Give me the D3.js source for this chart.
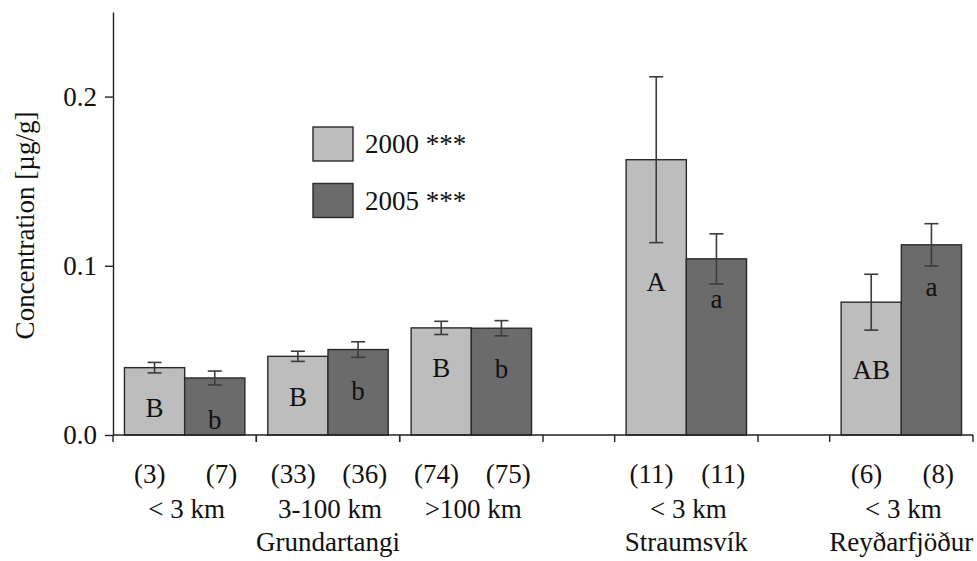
<!DOCTYPE html>
<html>
<head>
<meta charset="utf-8">
<script src="https://cdn.jsdelivr.net/npm/d3@7"></script>
<style>
  body { margin: 0; background: #fff; }
  text { font-family: "Liberation Serif", "Times New Roman", serif; fill: #111; }
</style>
</head>
<body>
<svg width="977" height="561"></svg>
<script>
// distance classes, one per group of two bars
var distances = ["< 3 km", "3-100 km", ">100 km", "< 3 km", "< 3 km"];
var sites = ["Grundartangi", "Straumsvík", "Reyðarfjöður"];
var siteOfGroup = [0, 0, 0, 1, 2];
var years = ["2000 ***", "2005 ***"];

// mean concentration [µg/g] and standard error
var mean2000 = [0.0398, 0.0465, 0.0633, 0.1627, 0.0785];
var mean2005 = [0.0337, 0.0505, 0.0631, 0.1041, 0.1124];
var se2000 = [0.0031, 0.0030, 0.0039, 0.0490, 0.0165];
var se2005 = [0.0041, 0.0046, 0.0045, 0.0148, 0.0125];

// sample sizes
var n2000 = [3, 33, 74, 11, 6];
var n2005 = [7, 36, 75, 11, 8];

// significance letters and the concentration level they are written at
var letters2000 = ["B", "B", "B", "A", "AB"];
var letters2005 = ["b", "b", "b", "a", "a"];
var letterAt2000 = [0.0160, 0.0227, 0.0396, 0.0907, 0.0385];
var letterAt2005 = [0.0089, 0.0262, 0.0390, 0.0805, 0.0878];

var yTicks = [0, 0.1, 0.2];
var colors = ["#bdbdbd", "#6b6b6b"];
var fontSize = "27px";

var svg = d3.select("svg"),
    margin = {top: 12, right: 4, bottom: 126, left: 113},
    width = +svg.attr("width") - margin.left - margin.right,
    height = +svg.attr("height") - margin.top - margin.bottom,
    chart = svg.append("g").attr("transform", "translate(" + margin.left + "," + margin.top + ")");

// one slot per bar, plus a single empty slot where the site changes
var slots = [];
distances.forEach(function(d, i) {
  if (i > 0 && siteOfGroup[i] !== siteOfGroup[i - 1]) slots.push("gap" + i);
  slots.push(i + "-0");
  slots.push(i + "-1");
});

var x = d3.scaleBand().domain(slots).range([0, width]).padding(0);
var bw = x.bandwidth();
var pad = bw * 0.16;

var y = d3.scaleLinear().domain([0, 0.25]).range([height, 0]);

var bars = [];
distances.forEach(function(d, i) {
  bars.push({g: i, yr: 0, v: mean2000[i], se: se2000[i], n: n2000[i], letter: letters2000[i], at: letterAt2000[i]});
  bars.push({g: i, yr: 1, v: mean2005[i], se: se2005[i], n: n2005[i], letter: letters2005[i], at: letterAt2005[i]});
});

function barX(d) { return x(d.g + "-" + d.yr) + (d.yr === 0 ? pad : 0); }
function barMid(d) { return barX(d) + (bw - pad) / 2; }

// bars
chart.selectAll(".bar")
  .data(bars)
  .enter()
  .append("rect")
  .attr("class", "bar")
  .attr("x", barX)
  .attr("y", function(d) { return y(d.v); })
  .attr("width", bw - pad)
  .attr("height", function(d) { return height - y(d.v); })
  .attr("fill", function(d) { return colors[d.yr]; })
  .attr("stroke", "#2a2a2a")
  .attr("stroke-width", 1.4);

// error bars
var err = chart.selectAll(".err")
  .data(bars)
  .enter()
  .append("g")
  .attr("class", "err")
  .attr("stroke", "#3c3c3c")
  .attr("stroke-width", 1.6);

err.append("line")
  .attr("x1", barMid).attr("x2", barMid)
  .attr("y1", function(d) { return y(d.v + d.se); })
  .attr("y2", function(d) { return y(d.v - d.se); });
[1, -1].forEach(function(s) {
  err.append("line")
    .attr("x1", function(d) { return barMid(d) - 7; })
    .attr("x2", function(d) { return barMid(d) + 7; })
    .attr("y1", function(d) { return y(d.v + s * d.se); })
    .attr("y2", function(d) { return y(d.v + s * d.se); });
});

// letters inside the bars
chart.selectAll(".letter")
  .data(bars)
  .enter()
  .append("text")
  .attr("class", "letter")
  .attr("x", barMid)
  .attr("y", function(d) { return y(d.at); })
  .attr("dy", "0.35em")
  .attr("text-anchor", "middle")
  .style("font-size", fontSize)
  .text(function(d) { return d.letter; });

// y axis
var yAxis = chart.append("g")
  .call(d3.axisLeft(y).tickValues(yTicks).tickFormat(d3.format(".1f")).tickSize(8).tickSizeOuter(0).tickPadding(8));
yAxis.select(".domain").attr("stroke", "#222").attr("stroke-width", 1.4);
yAxis.selectAll(".tick line").attr("stroke", "#222").attr("stroke-width", 1.4);
yAxis.selectAll(".tick text")
  .style("font-family", '"Liberation Serif", serif')
  .style("font-size", fontSize)
  .attr("fill", "#111");

// x axis: baseline with ticks at group boundaries
var xAxis = chart.append("g").attr("transform", "translate(0," + height + ")")
  .attr("stroke", "#222").attr("stroke-width", 1.4);
xAxis.append("line").attr("x1", 0).attr("x2", width).attr("y1", 0).attr("y2", 0);
var bounds = [];
distances.forEach(function(d, i) {
  bounds.push(x(i + "-0"));
  bounds.push(x(i + "-1") + bw);
});
xAxis.selectAll(".xt")
  .data(bounds)
  .enter()
  .append("line")
  .attr("x1", function(d) { return d; })
  .attr("x2", function(d) { return d; })
  .attr("y1", 0)
  .attr("y2", 7);

// n labels, distance labels, site labels
chart.selectAll(".nlab")
  .data(bars)
  .enter()
  .append("text")
  .attr("x", function(d) { return x(d.g + "-" + d.yr) + bw / 2 + 1; })
  .attr("y", height + 48)
  .attr("text-anchor", "middle")
  .style("font-size", fontSize)
  .text(function(d) { return "(" + d.n + ")"; });

chart.selectAll(".dlab")
  .data(distances)
  .enter()
  .append("text")
  .attr("x", function(d, i) { return x(i + "-1") + 2; })
  .attr("y", height + 83)
  .attr("text-anchor", "middle")
  .style("font-size", fontSize)
  .text(function(d) { return d; });

chart.selectAll(".slab")
  .data(sites)
  .enter()
  .append("text")
  .attr("x", function(d, s) {
    var gs = d3.range(distances.length).filter(function(i) { return siteOfGroup[i] === s; });
    return (x(gs[0] + "-0") + x(gs[gs.length - 1] + "-1") + bw) / 2;
  })
  .attr("y", height + 116)
  .attr("text-anchor", "middle")
  .style("font-size", fontSize)
  .text(function(d) { return d; });

// y axis title
svg.append("text")
  .attr("transform", "translate(25," + (margin.top + height / 2 + 2) + ") rotate(-90)")
  .attr("dy", "0.35em")
  .attr("text-anchor", "middle")
  .style("font-size", fontSize)
  .text("Concentration [µg/g]");

// legend
var legend = svg.selectAll(".legend")
  .data(years)
  .enter()
  .append("g")
  .attr("transform", function(d, i) { return "translate(313," + (127 + i * 56.5) + ")"; });
legend.append("rect")
  .attr("width", 40)
  .attr("height", 34)
  .attr("fill", function(d, i) { return colors[i]; })
  .attr("stroke", "#2a2a2a")
  .attr("stroke-width", 1.4);
legend.append("text")
  .attr("x", 52)
  .attr("y", 17)
  .attr("dy", "0.35em")
  .style("font-size", fontSize)
  .text(function(d) { return d; });
</script>
</body>
</html>
